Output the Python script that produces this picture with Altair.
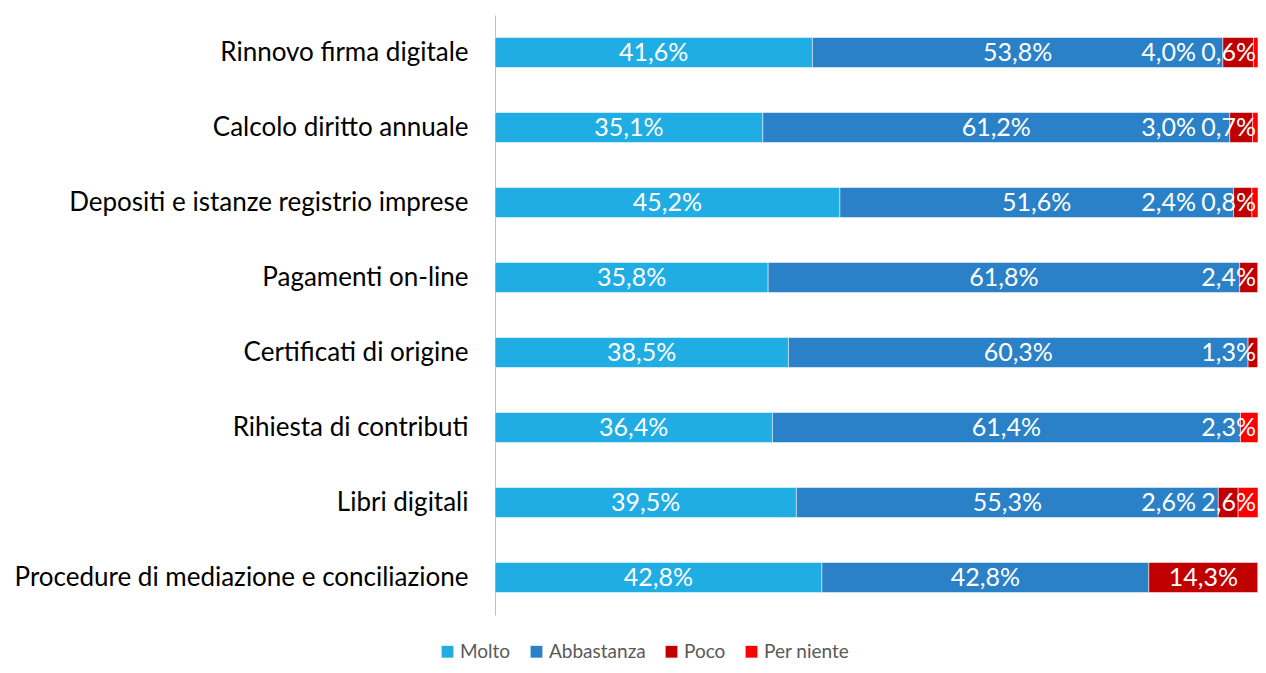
import altair as alt
import pandas as pd

categories = [
    "Rinnovo firma digitale",
    "Calcolo diritto annuale",
    "Depositi e istanze registrio imprese",
    "Pagamenti on-line",
    "Certificati di origine",
    "Rihiesta di contributi",
    "Libri digitali",
    "Procedure di mediazione e conciliazione",
]
series = ["Molto", "Abbastanza", "Poco", "Per niente"]
molto = [41.6, 35.1, 45.2, 35.8, 38.5, 36.4, 39.5, 42.8]
abbastanza = [53.8, 61.2, 51.6, 61.8, 60.3, 61.4, 55.3, 42.8]
poco = [4.0, 3.0, 2.4, 2.4, 1.3, 0.0, 2.6, 14.3]
per_niente = [0.6, 0.7, 0.8, 0.0, 0.0, 2.3, 2.6, 0.0]
colors = ["#1FADE4", "#2A81C7", "#C00000", "#FF0000"]

rows = []
for i, cat in enumerate(categories):
    vals = [molto[i], abbastanza[i], poco[i], per_niente[i]]
    # label placement: big segments centered, small trailing ones pushed to the bar end
    small = [k for k, v in enumerate(vals) if 0 < v < 5]
    pos = {}
    if small:
        pos[small[-1]] = "end"
        if len(small) > 1:
            pos[small[-2]] = "preend"
    for k, s in enumerate(series):
        v = vals[k]
        rows.append({
            "cat": cat, "serie": s, "order": k, "value": v,
            "label": (f"{v:.1f}".replace(".", ",") + "%") if v > 0 else "",
            "pos": pos.get(k, "center"),
        })
df = pd.DataFrame(rows)

FONT = "Lato"

base = alt.Chart(df).transform_stack(
    stack="value", groupby=["cat"], as_=["x0", "x1"],
    sort=[alt.SortField("order", order="ascending")], offset="normalize",
).transform_calculate(
    mid="(datum.x0 + datum.x1) / 2"
).transform_joinaggregate(
    row_end="max(x1)", groupby=["cat"]
)

y_enc = alt.Y("cat:N", sort=categories, title=None,
              scale=alt.Scale(paddingInner=0.6, paddingOuter=0.3),
              axis=alt.Axis(labelFont=FONT, labelFontSize=26, labelColor="#000000",
                            labelPadding=27, ticks=False, domain=True,
                            domainColor="#BFBFBF", domainWidth=1, labelLimit=600))
x_scale = alt.Scale(domain=[0, 1], nice=False, zero=True)

bars = base.mark_bar(stroke="white", strokeWidth=0.5).encode(
    y=y_enc,
    x=alt.X("x0:Q", scale=x_scale, axis=None),
    x2="x1:Q",
    color=alt.Color("serie:N", sort=series,
                    scale=alt.Scale(domain=series, range=colors),
                    legend=alt.Legend(title=None, orient="none", direction="horizontal",
                                      legendX=-57, legendY=627,
                                      symbolType="square", symbolSize=140,
                                      symbolStrokeWidth=0,
                                      labelFont=FONT, labelFontSize=19,
                                      labelColor="#595959", columnPadding=16,
                                      labelOffset=3)),
    order=alt.Order("order:Q"),
)

txt_style = dict(font=FONT, fontSize=25, color="white", baseline="middle")

center_lbl = base.transform_filter("datum.pos == 'center' && datum.value > 0").mark_text(
    align="center", **txt_style
).encode(y=alt.Y("cat:N", sort=categories), x=alt.X("mid:Q", scale=x_scale), text="label:N")

end_lbl = base.transform_filter("datum.pos == 'end'").mark_text(
    align="right", dx=-2, **txt_style
).encode(y=alt.Y("cat:N", sort=categories), x=alt.X("row_end:Q", scale=x_scale), text="label:N")

preend_lbl = base.transform_filter("datum.pos == 'preend'").mark_text(
    align="right", dx=-62, **txt_style
).encode(y=alt.Y("cat:N", sort=categories), x=alt.X("row_end:Q", scale=x_scale), text="label:N")

chart = alt.layer(bars, center_lbl, end_lbl, preend_lbl).properties(
    width=763, height=600,
    autosize=alt.AutoSizeParams(type="none"),
    padding={"left": 487, "top": 7, "right": 0, "bottom": 50},
    background="white",
).configure_view(stroke=None)

chart.save("out.html", embed_options={"renderer": "svg", "actions": False})
